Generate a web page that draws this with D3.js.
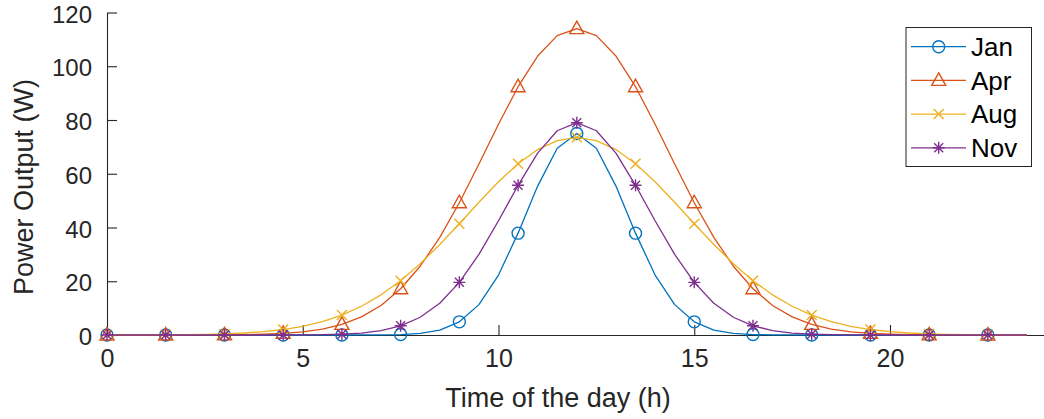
<!DOCTYPE html>
<html>
<head>
<meta charset="utf-8">
<script src="https://cdn.jsdelivr.net/npm/d3@7/dist/d3.min.js"></script>
<style>
  html, body { margin: 0; padding: 0; background: #ffffff; }
  svg { display: block; }
  text { font-family: "Liberation Sans", Arial, Helvetica, sans-serif; }
</style>
</head>
<body>
<svg id="chart" width="1044" height="419"></svg>
<script>
// Hour of the day, sampled every half hour
const hours = [
  0, 0.5, 1, 1.5, 2, 2.5, 3, 3.5, 4, 4.5, 5, 5.5,
  6, 6.5, 7, 7.5, 8, 8.5, 9, 9.5, 10, 10.5, 11, 11.5,
  12, 12.5, 13, 13.5, 14, 14.5, 15, 15.5, 16, 16.5, 17, 17.5,
  18, 18.5, 19, 19.5, 20, 20.5, 21, 21.5, 22, 22.5, 23, 23.5
];

// Power output (W) per month
const janPower = [
  0, 0, 0, 0, 0, 0, 0, 0, 0, 0, 0, 0,
  0, 0.01, 0.04, 0.16, 0.59, 1.83, 4.9, 11.3, 22.3, 37.9, 55.4, 69.5,
  75, 69.5, 55.4, 37.9, 22.3, 11.3, 4.9, 1.83, 0.59, 0.16, 0.04, 0.01,
  0, 0, 0, 0, 0, 0, 0, 0, 0, 0, 0, 0
];
const aprPower = [
  0, 0, 0, 0, 0.01, 0.02, 0.06, 0.13, 0.29, 0.59, 1.17, 2.2,
  3.94, 6.75, 11.0, 17.2, 25.6, 36.3, 49.2, 63.6, 78.4, 92.4, 103.8, 111.4,
  114, 111.4, 103.8, 92.4, 78.4, 63.6, 49.2, 36.3, 25.6, 17.2, 11.0, 6.75,
  3.94, 2.2, 1.17, 0.59, 0.29, 0.13, 0.06, 0.02, 0.01, 0, 0, 0
];
const augPower = [
  0.01, 0.02, 0.03, 0.07, 0.13, 0.23, 0.42, 0.74, 1.25, 2.04, 3.24, 4.99,
  7.42, 10.7, 14.95, 20.2, 26.5, 33.7, 41.4, 49.4, 57.0, 63.7, 69.0, 72.3,
  73.5, 72.3, 69.0, 63.7, 57.0, 49.4, 41.4, 33.7, 26.5, 20.2, 14.95, 10.7,
  7.42, 4.99, 3.24, 2.04, 1.25, 0.74, 0.42, 0.23, 0.13, 0.07, 0.03, 0.02
];
const novPower = [
  0, 0, 0, 0, 0, 0, 0, 0, 0, 0.01, 0.04, 0.11,
  0.30, 0.73, 1.64, 3.42, 6.61, 11.8, 19.6, 30.0, 42.5, 55.7, 67.7, 76.0,
  79, 76.0, 67.7, 55.7, 42.5, 30.0, 19.6, 11.8, 6.61, 3.42, 1.64, 0.73,
  0.30, 0.11, 0.04, 0.01, 0, 0, 0, 0, 0, 0, 0, 0
];

const monthNames = ["Jan", "Apr", "Aug", "Nov"];
const xTicks = [0, 5, 10, 15, 20];
const yTicks = [0, 20, 40, 60, 80, 100, 120];

const seriesList = [
  { name: monthNames[0], values: janPower, color: "#0072BD", marker: "circle" },
  { name: monthNames[1], values: aprPower, color: "#D95319", marker: "triangle" },
  { name: monthNames[2], values: augPower, color: "#EDB120", marker: "cross" },
  { name: monthNames[3], values: novPower, color: "#7E2F8E", marker: "asterisk" }
];

const axisColor = "#262626";
const svg = d3.select("#chart");

const x = d3.scaleLinear().domain([0, 24]).range([107, 1046.6]);
const y = d3.scaleLinear().domain([0, 120]).range([335, 12.5]);

// Axes (ticks pointing inward, no box)
const xAxis = svg.append("g")
  .attr("transform", `translate(0,${y(0)})`)
  .call(d3.axisBottom(x).tickValues(xTicks).tickFormat(d3.format("d"))
    .tickSizeInner(-10).tickSizeOuter(0).tickPadding(14));
const yAxis = svg.append("g")
  .attr("transform", `translate(${x(0)},0)`)
  .call(d3.axisLeft(y).tickValues(yTicks).tickFormat(d3.format("d"))
    .tickSizeInner(-10).tickSizeOuter(0).tickPadding(15));

[xAxis, yAxis].forEach(g => {
  g.select(".domain").attr("stroke", axisColor).attr("stroke-width", 1.1);
  g.selectAll(".tick line").attr("stroke", axisColor).attr("stroke-width", 1.1);
  g.selectAll(".tick text").attr("fill", axisColor)
    .style("font-size", "24px")
    .style("font-family", "'Liberation Sans', Arial, sans-serif");
});
xAxis.selectAll(".tick text").style("font-size", "25px");
yAxis.selectAll(".tick text").attr("dy", "0.4em");

// Axis titles
svg.append("text")
  .attr("x", 558).attr("y", 407)
  .attr("text-anchor", "middle")
  .attr("fill", axisColor)
  .style("font-size", "27px")
  .text("Time of the day (h)");
svg.append("text")
  .attr("transform", "translate(33,187) rotate(-90)")
  .attr("text-anchor", "middle")
  .attr("fill", axisColor)
  .style("font-size", "27px")
  .text("Power Output (W)");

// Marker shapes
function drawMarker(g, type, cx, cy, color) {
  const s = g.append("g").attr("transform", `translate(${cx},${cy})`)
    .attr("fill", "none").attr("stroke", color).attr("stroke-width", 1.4);
  if (type === "circle") {
    s.append("circle").attr("r", 6);
  } else if (type === "triangle") {
    s.append("path").attr("d", "M0,-7.5 L7,5 L-7,5 Z");
  } else if (type === "cross") {
    s.append("path").attr("d", "M-5,-5 L5,5 M-5,5 L5,-5");
  } else if (type === "asterisk") {
    s.append("path").attr("d", "M-6,0 L6,0 M0,-6 L0,6 M-4.5,-4.5 L4.5,4.5 M-4.5,4.5 L4.5,-4.5");
  }
}

const line = d3.line()
  .x((d, i) => x(hours[i]))
  .y(d => y(d));

const plot = svg.append("g");
seriesList.forEach(s => {
  const g = plot.append("g");
  g.append("path")
    .attr("d", line(s.values))
    .attr("fill", "none")
    .attr("stroke", s.color)
    .attr("stroke-width", 1.3)
    .attr("stroke-linejoin", "round");
  s.values.forEach((v, i) => {
    if (i % 3 === 0) drawMarker(g, s.marker, x(hours[i]), y(v), s.color);
  });
});

// Legend
const legend = svg.append("g");
legend.append("rect")
  .attr("x", 906).attr("y", 27.5)
  .attr("width", 125.5).attr("height", 139)
  .attr("fill", "#ffffff")
  .attr("stroke", axisColor).attr("stroke-width", 1);
seriesList.forEach((s, i) => {
  const cy = 46.7 + i * 33.7;
  legend.append("line")
    .attr("x1", 911).attr("x2", 966)
    .attr("y1", cy).attr("y2", cy)
    .attr("stroke", s.color).attr("stroke-width", 1.3);
  drawMarker(legend, s.marker, 938.7, cy, s.color);
  legend.append("text")
    .attr("x", 971).attr("y", cy)
    .attr("dy", "0.36em")
    .attr("fill", "#000000")
    .style("font-size", "26px")
    .text(s.name);
});
</script>
</body>
</html>
